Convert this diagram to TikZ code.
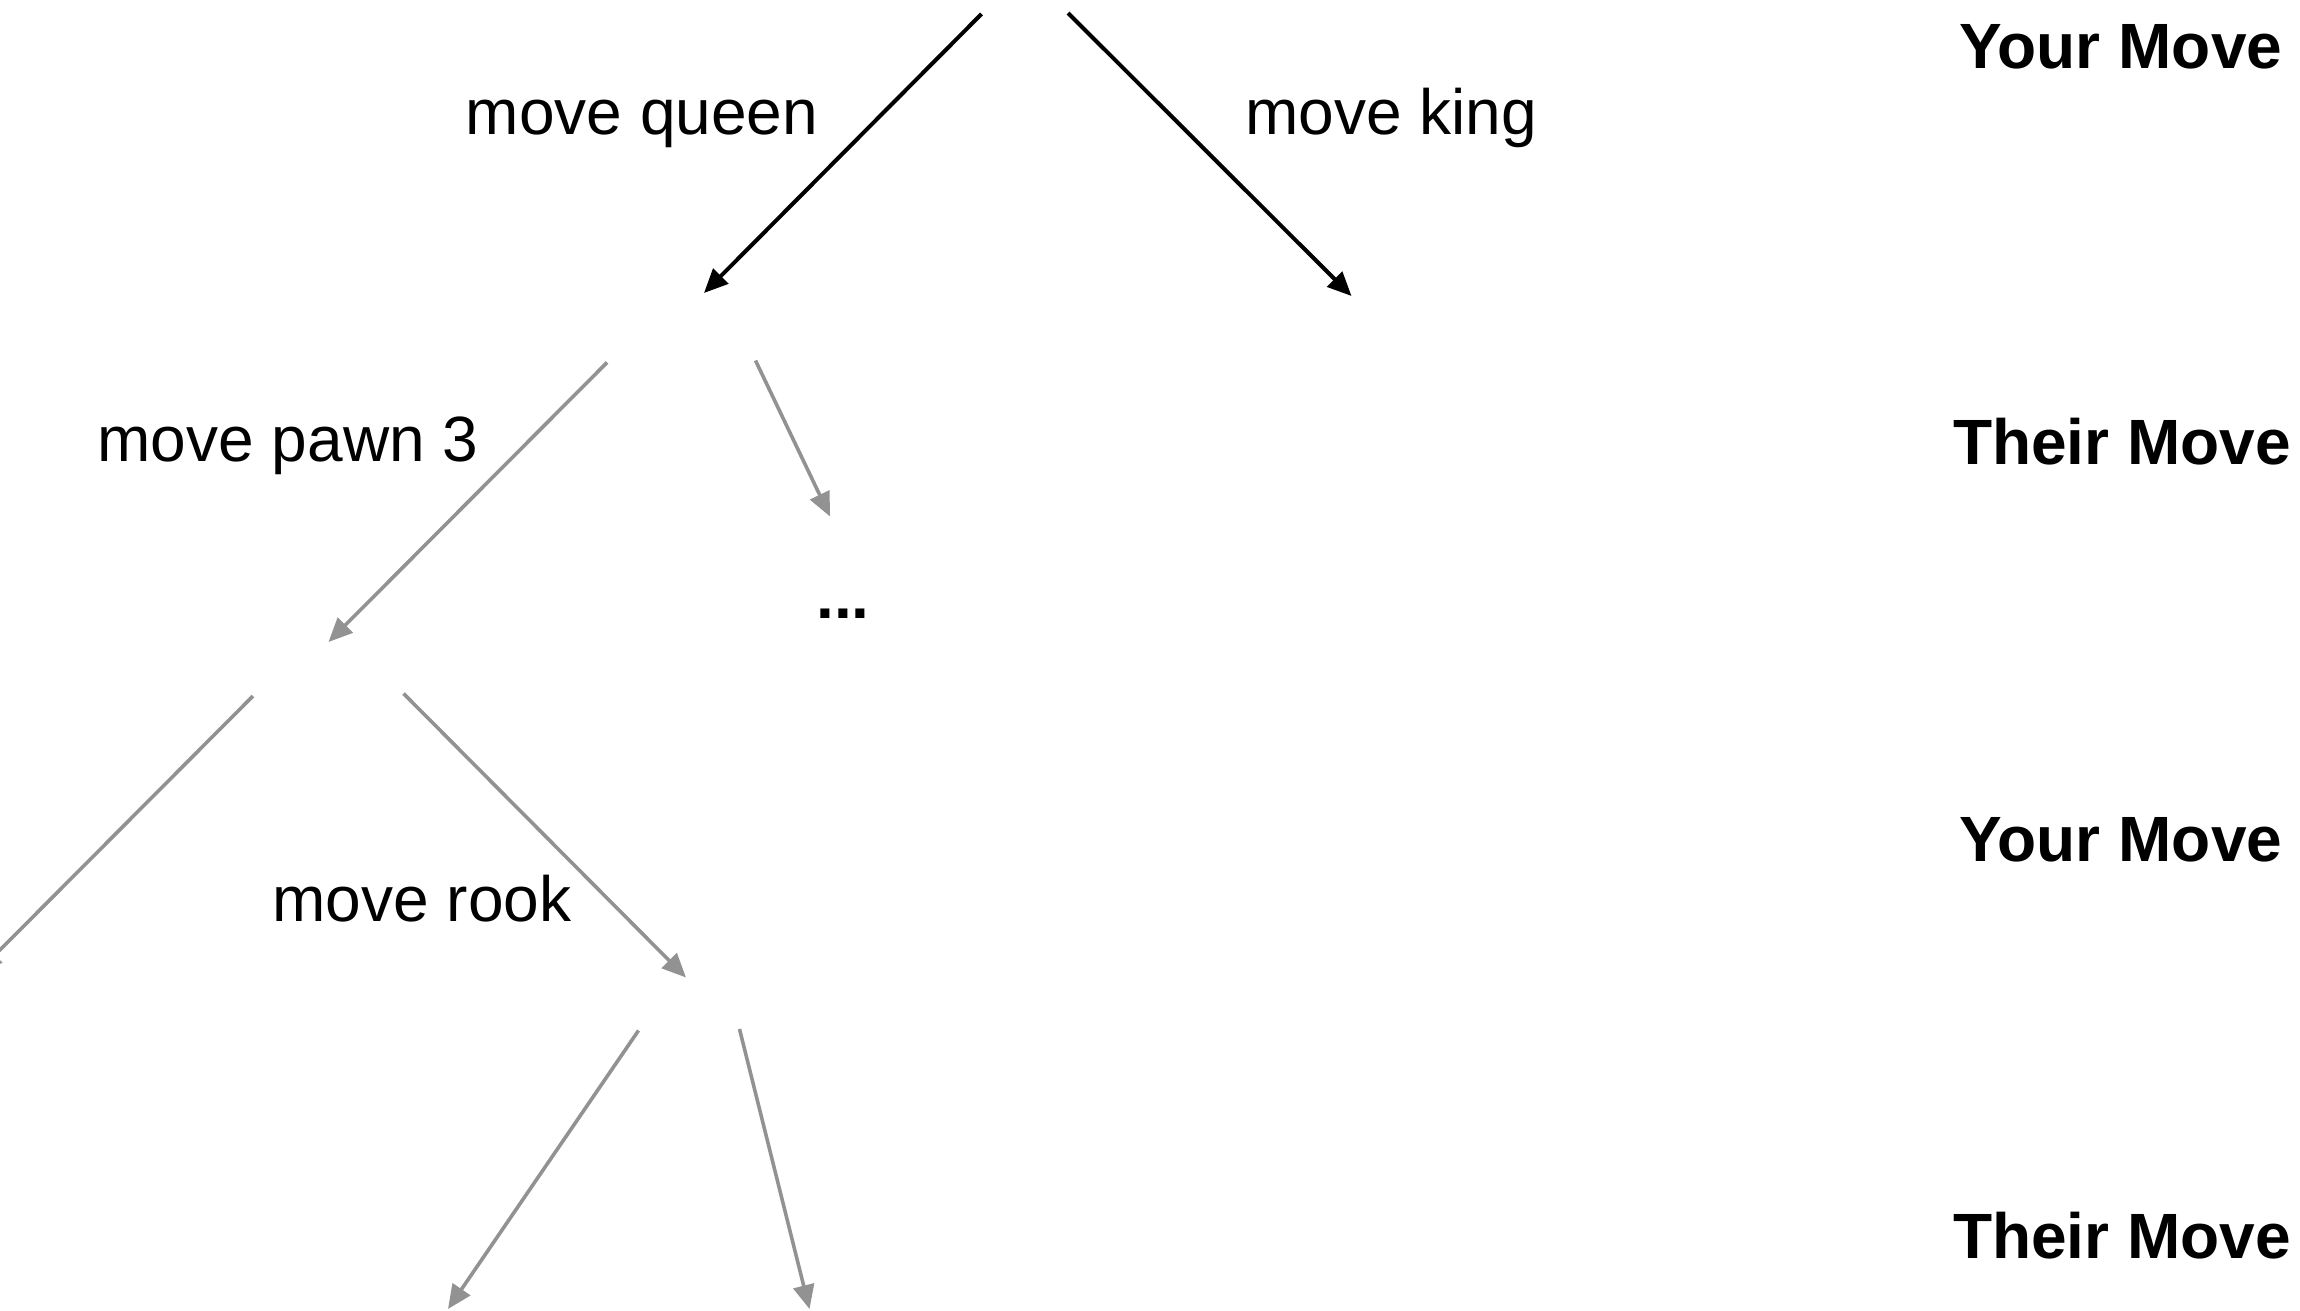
\documentclass[tikz,border=0pt]{standalone}
\usepackage{fontspec}
\setmainfont{Liberation Sans}
\usetikzlibrary{arrows.meta}
\definecolor{arrowgray}{RGB}{146,146,146}
\tikzset{
  lbl/.style={inner sep=0pt, anchor=base, font=\fontsize{64}{77}\selectfont},
  lvl/.style={inner sep=0pt, anchor=base, font=\fontsize{64}{77}\selectfont\bfseries},
  blackarrow/.style={draw=black, line width=4pt, -{Triangle[length=24pt,width=21pt]}},
  grayarrow/.style={draw=arrowgray, line width=3.6pt, -{Triangle[length=24pt,width=21pt,fill=arrowgray]}}
}
\begin{document}
\begin{tikzpicture}[x=1pt,y=-1pt]
\useasboundingbox (0,0) rectangle (2300,1311);
% endpoints of the tree's moves
\coordinate (r1) at (981.5,14);
\coordinate (r2) at (1068,13);
\coordinate (q) at (704,293);
\coordinate (k) at (1351.5,296);
\coordinate (q1) at (607,362.5);
\coordinate (q2) at (755.5,360.5);
\coordinate (p) at (328.5,642);
\coordinate (d) at (830,516.5);
\coordinate (p1) at (253,696);
\coordinate (p2) at (403.5,693.5);
\coordinate (off) at (-22,972);
\coordinate (rk) at (686,977.5);
\coordinate (rk1) at (638.5,1030.5);
\coordinate (rk2) at (739.5,1029);
\coordinate (e1) at (448,1309);
\coordinate (e2) at (809.5,1309);

\draw[blackarrow] (r1) -- (q);
\draw[blackarrow] (r2) -- (k);
\draw[grayarrow] (q1) -- (p);
\draw[grayarrow] (q2) -- (d);
\draw[grayarrow] (p1) -- (off);
\draw[grayarrow] (p2) -- (rk);
\draw[grayarrow] (rk1) -- (e1);
\draw[grayarrow] (rk2) -- (e2);

\node[lbl] (lq) at (642,135) {move queen};
\node[lbl] (lk) at (1391,135) {move king};
\node[lbl] (lp) at (288,461) {move pawn 3};
\node[lbl] (lr) at (422,921) {move rook};
\node[lvl] (dots) at (843,618) {...};

\node[lvl] (y1) at (2121,68.5) {Your Move};
\node[lvl] (t1) at (2122,464) {Their Move};
\node[lvl] (y2) at (2121,861) {Your Move};
\node[lvl] (t2) at (2122,1258) {Their Move};
\end{tikzpicture}
\end{document}
